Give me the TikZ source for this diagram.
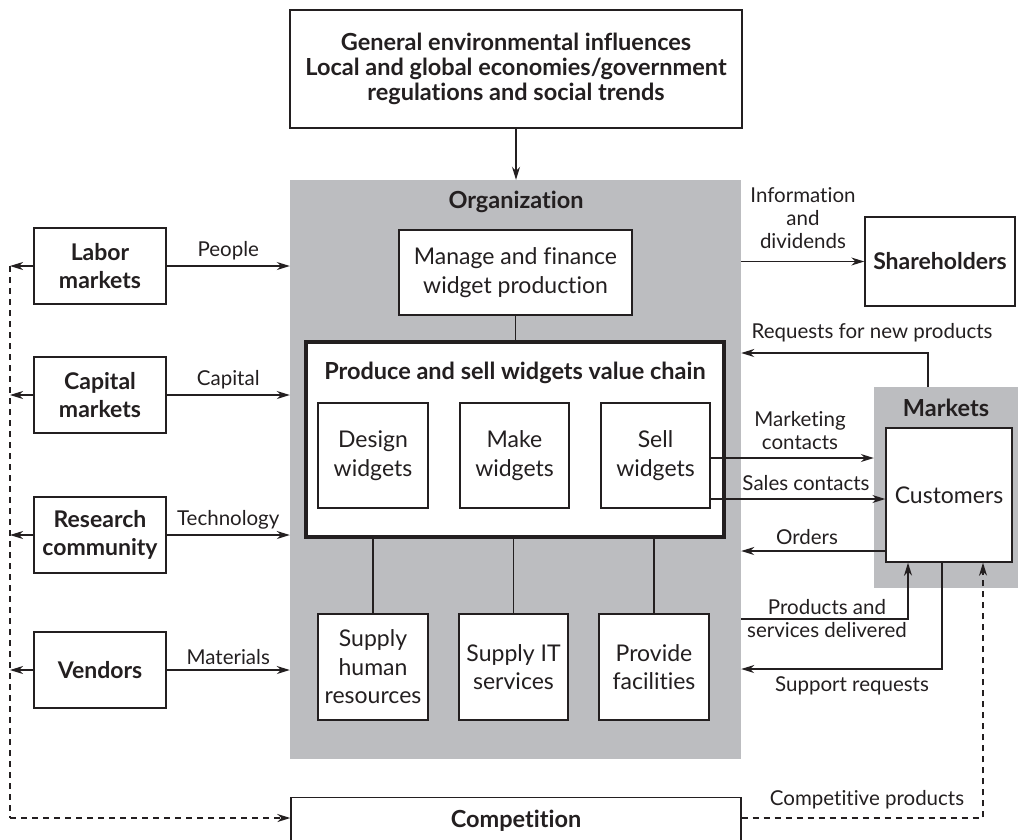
\documentclass[tikz,border=0pt]{standalone}
\usepackage{fontspec}
\setmainfont{Lato}[RawFeature=-liga]
\usetikzlibrary{arrows.meta,calc}
\definecolor{ink}{RGB}{35,31,32}
\definecolor{orggray}{RGB}{188,189,192}
\begin{document}
\begin{tikzpicture}[x=1pt,y=-1pt,
  every node/.style={text=ink},
  box/.style={draw=ink,fill=white,line width=1.4pt,align=center,inner sep=0pt,
    font=\fontsize{23}{28.5}\selectfont},
  bbox/.style={box,font=\fontsize{23}{28}\selectfont\bfseries},
  lbl/.style={align=center,inner sep=0pt,font=\fontsize{20.5}{23}\selectfont},
  con/.style={draw=ink,line width=1.4pt},
  arr/.style={con,-{Stealth[length=13pt,width=8pt,inset=4pt]}},
  dsh/.style={con,dash pattern=on 6pt off 5pt}]
\useasboundingbox (0,0) rectangle (1019,839);

% top box
\node[bbox,minimum width=452pt,minimum height=118pt,font=\fontsize{23.5}{25}\selectfont\bfseries]
  (env) at (516,69) {General environmental influences\\Local and global economies/government\\regulations and social trends};

% organization
\node[fill=orggray,minimum width=451pt,minimum height=579pt,inner sep=0pt] (org) at (515.5,469.5) {};
\node[lbl,font=\fontsize{23.5}{25}\selectfont\bfseries] (orglbl) at (516,202) {Organization};
\draw[arr] (env.south -| 516,0) -- (org.north -| 516,0);

\node[box,minimum width=233pt,minimum height=85pt] (manage) at (515.5,272.5) {Manage and finance\\widget production};
\node[box,line width=3.2pt,minimum width=418pt,minimum height=195pt] (vc) at (515,439.5) {};
\node[lbl,font=\fontsize{23.5}{25}\selectfont\bfseries] (vctitle) at (515,373) {Produce and sell widgets value chain};
\draw[con] (manage.south) -- (manage.south |- vc.north);

\node[box,minimum width=110pt,minimum height=105pt] (design) at (373,455.5) {Design\\widgets};
\node[box,minimum width=109pt,minimum height=105pt] (make) at (514.5,455.5) {Make\\widgets};
\node[box,minimum width=109pt,minimum height=105pt] (sell) at (655.5,455.5) {Sell\\widgets};

\node[box,minimum width=110pt,minimum height=106pt] (hr) at (373,667) {Supply\\human\\resources};
\node[box,minimum width=109pt,minimum height=106pt] (it) at (513.5,667) {Supply IT\\services};
\node[box,minimum width=110pt,minimum height=106pt] (fac) at (654,667) {Provide\\facilities};
\draw[con] (hr.north) -- (hr.north |- vc.south);
\draw[con] (it.north) -- (it.north |- vc.south);
\draw[con] (fac.north) -- (fac.north |- vc.south);

% left side
\node[bbox,minimum width=132pt,minimum height=76pt] (labor) at (100,266) {Labor\\markets};
\node[bbox,minimum width=132pt,minimum height=76pt] (capital) at (100,395) {Capital\\markets};
\node[bbox,minimum width=132pt,minimum height=76pt] (research) at (100,535) {Research\\community};
\node[bbox,minimum width=132pt,minimum height=76pt] (vendors) at (100,670) {Vendors};

\coordinate (dtop) at (10,266);
\coordinate (dbot) at (10,818);

\draw[arr] (labor.east) -- node[lbl,above=5pt] {People} (labor.east -| org.west);
\draw[arr] (capital.east) -- node[lbl,above=5pt] {Capital} (capital.east -| org.west);
\draw[arr] (research.east) -- node[lbl,above=5pt] {Technology} (research.east -| org.west);
\draw[arr] (vendors.east) -- node[lbl,above=5pt] {Materials} (vendors.east -| org.west);
\draw[arr] (labor.west) -- (labor.west -| dtop);
\draw[arr] (capital.west) -- (capital.west -| dtop);
\draw[arr] (research.west) -- (research.west -| dtop);
\draw[arr] (vendors.west) -- (vendors.west -| dtop);

% competition
\node[bbox,minimum width=450pt,minimum height=48pt,anchor=north] (comp) at (516,797) {};
\node[lbl,font=\fontsize{23.5}{25}\selectfont\bfseries] (complbl) at (516,821) {Competition};
\draw[dsh] (dtop) -- (dbot);
\draw[dsh,-{Stealth[length=13pt,width=8pt,inset=4pt]}] (dbot) -- (dbot -| comp.west);

% right side
\node[bbox,minimum width=150pt,minimum height=89pt] (share) at (940,261.5) {Shareholders};
\draw[arr] (org.east |- share.west) -- (share.west);
\node[lbl] (infolbl) at (803,218) {Information\\and\\dividends};

\node[fill=orggray,minimum width=144pt,minimum height=201pt,inner sep=0pt] (markets) at (946,487.5) {};
\node[lbl,font=\fontsize{23.5}{25}\selectfont\bfseries] (mktlbl) at (946,408) {Markets};
\node[box,minimum width=126pt,minimum height=134pt] (cust) at (949,495) {Customers};

\coordinate (reqstart) at (928,387);
\draw[arr] (reqstart) |- (org.east |- 0,353);
\node[lbl] (reqlbl) at (872,333) {Requests for new products};

\draw[arr] (sell.east |- 0,458) -- (markets.west |- 0,458);
\node[lbl] (mclbl) at (800,431) {Marketing\\contacts};
\draw[arr] (sell.east |- 0,499) -- (cust.west |- 0,499);
\node[lbl] (sclbl) at (806,483) {Sales contacts};
\draw[arr] (cust.west |- 0,551) -- (org.east |- 0,551);
\node[lbl] (ordlbl) at (807,537) {Orders};

\coordinate (pd) at (908,0);
\draw[arr] (org.east |- 0,619) -| (pd |- cust.south);
\node[lbl] (pdlbl) at (827,619) {Products and\\services delivered};
\coordinate (sr) at (942,0);
\draw[arr] (sr |- cust.south) |- (org.east |- 0,669);
\node[lbl] (srlbl) at (852,686) {Support requests};

\coordinate (cp) at (983,0);
\draw[dsh,-{Stealth[length=13pt,width=8pt,inset=4pt]}] (comp.east |- dbot) -| (cp |- cust.south);
\node[lbl] (cplbl) at (867,800) {Competitive products};
\end{tikzpicture}
\end{document}
